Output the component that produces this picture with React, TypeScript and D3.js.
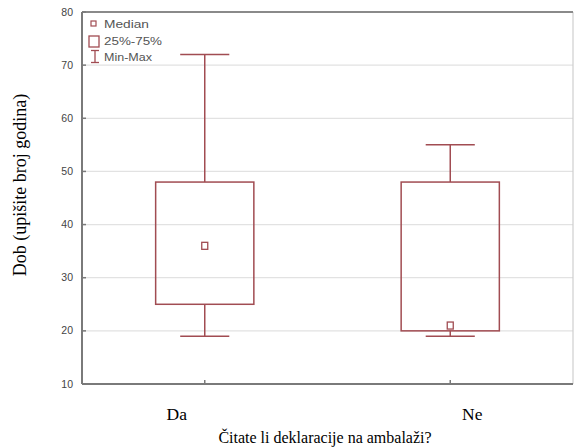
import React from "react";
import * as d3 from "d3";

const categories = ["Da", "Ne"];
const minValues = [19, 19];
const q1Values = [25, 20];
const medianValues = [36, 21];
const q3Values = [48, 48];
const maxValues = [72, 55];
const yTicks = [10, 20, 30, 40, 50, 60, 70, 80];
const legendLabels = ["Median", "25%-75%", "Min-Max"];

const W = 575;
const H = 447;
const M = { left: 82, right: 573, top: 12, bottom: 384 };
const RED = "#a14c52";
const SERIF = "'Liberation Serif', 'Times New Roman', serif";
const SANS = "'Liberation Sans', Arial, sans-serif";

export default function App() {
  const y = d3.scaleLinear().domain([10, 80]).range([M.bottom, M.top]);
  const x = d3.scalePoint<string>().domain(categories).range([M.left, M.right]).padding(0.5);
  const plotW = M.right - M.left;
  const boxW = plotW * 0.2;
  const capW = boxW * 0.5;
  const labelOffsets = [-28, 22];
  const legendLengths = [45, 58, 48];

  return (
    <svg width={W} height={H} style={{ position: "absolute", left: 0, top: 0 }}>
      <rect x={0} y={0} width={W} height={H} fill="#fff" />
      {yTicks.map((t) => (
        <line key={"g" + t} x1={M.left} x2={M.right} y1={y(t)} y2={y(t)} stroke="#e2e2e2" strokeWidth={1.2} />
      ))}
      <line x1={M.right} x2={M.right} y1={M.top} y2={M.bottom} stroke="#cfcfcf" strokeWidth={1.2} />
      <line x1={M.left} x2={M.right} y1={M.top} y2={M.top} stroke="#8a8a8a" strokeWidth={1.8} />
      <line x1={M.left} x2={M.left} y1={M.top} y2={M.bottom} stroke="#7a7a7a" strokeWidth={2} />
      <line x1={M.left} x2={M.right} y1={M.bottom} y2={M.bottom} stroke="#7a7a7a" strokeWidth={2} />
      {yTicks.map((t) => (
        <g key={"t" + t}>
          <line x1={M.left} x2={M.left + 4} y1={y(t)} y2={y(t)} stroke="#7a7a7a" strokeWidth={1.5} />
          <text x={73} y={y(t) + 3.5} textAnchor="end" fontFamily={SANS} fontSize={10.5} fill="#444">
            {t}
          </text>
        </g>
      ))}
      {categories.map((c, i) => {
        const cx = x(c)!;
        return (
          <g key={c}>
            <line x1={cx} x2={cx} y1={M.bottom} y2={M.bottom - 4} stroke="#7a7a7a" strokeWidth={1.5} />
            <line x1={cx} x2={cx} y1={y(maxValues[i])} y2={y(q3Values[i])} stroke={RED} strokeWidth={1.5} />
            <line x1={cx} x2={cx} y1={y(q1Values[i])} y2={y(minValues[i])} stroke={RED} strokeWidth={1.5} />
            <line x1={cx - capW / 2} x2={cx + capW / 2} y1={y(maxValues[i])} y2={y(maxValues[i])} stroke={RED} strokeWidth={1.5} />
            <line x1={cx - capW / 2} x2={cx + capW / 2} y1={y(minValues[i])} y2={y(minValues[i])} stroke={RED} strokeWidth={1.5} />
            <rect
              x={cx - boxW / 2}
              y={y(q3Values[i])}
              width={boxW}
              height={y(q1Values[i]) - y(q3Values[i])}
              fill="none"
              stroke={RED}
              strokeWidth={1.5}
            />
            <rect x={cx - 3} y={y(medianValues[i]) - 3.5} width={6} height={7} fill="#fff" stroke={RED} strokeWidth={1.3} />
            <text x={cx + labelOffsets[i]} y={420} textAnchor="middle" fontFamily={SERIF} fontSize={17.5} fill="#000">
              {c}
            </text>
          </g>
        );
      })}
      <text x={325} y={443} textAnchor="middle" fontFamily={SERIF} fontSize={16} fill="#000">
        Čitate li deklaracije na ambalaži?
      </text>
      <text
        transform={`translate(26, 185) rotate(-90)`}
        textAnchor="middle"
        fontFamily={SERIF}
        fontSize={18}
        fill="#000"
      >
        Dob (upišite broj godina)
      </text>
      <g fontFamily={SANS} fontSize={10} fill="#555">
        <rect x={91} y={21} width={5} height={5} fill="none" stroke={RED} strokeWidth={1.2} />
        <text x={104} y={27.5} textLength={legendLengths[0]} lengthAdjust="spacingAndGlyphs">{legendLabels[0]}</text>
        <rect x={89} y={36} width={10} height={11} fill="none" stroke={RED} strokeWidth={1.3} />
        <text x={104} y={44.5} textLength={legendLengths[1]} lengthAdjust="spacingAndGlyphs">{legendLabels[1]}</text>
        <line x1={95} x2={95} y1={50} y2={63} stroke={RED} strokeWidth={1.3} />
        <line x1={91} x2={99} y1={50.5} y2={50.5} stroke={RED} strokeWidth={1.3} />
        <line x1={91} x2={99} y1={62.5} y2={62.5} stroke={RED} strokeWidth={1.3} />
        <text x={104} y={61} textLength={legendLengths[2]} lengthAdjust="spacingAndGlyphs">{legendLabels[2]}</text>
      </g>
    </svg>
  );
}
